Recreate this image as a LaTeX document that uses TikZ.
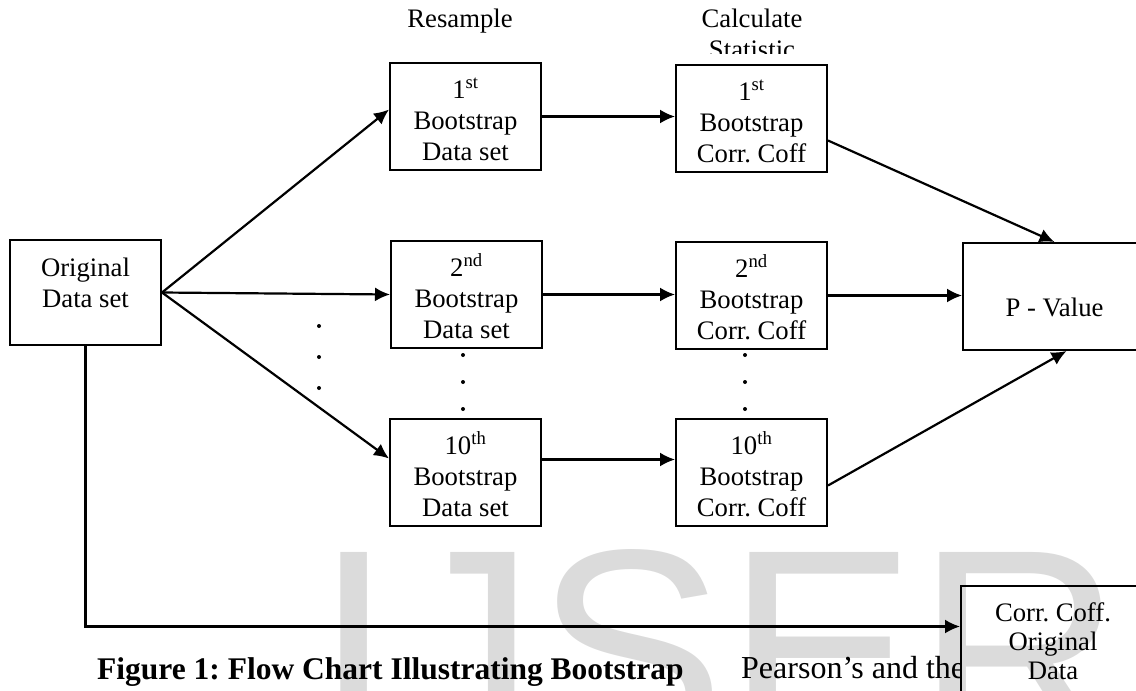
\documentclass[tikz,border=0pt]{standalone}
\usepackage{fontspec}
\setmainfont{Liberation Serif}
\newfontfamily\markfont{Liberation Sans}
\usetikzlibrary{arrows.meta}
\frenchspacing

\begin{document}
\begin{tikzpicture}[x=1pt,y=-1pt,>={Latex[length=15pt,width=14pt]},
    box/.style={draw,line width=2pt,inner sep=0pt,align=center,anchor=north west,
        minimum width=151pt,text height=97pt,text depth=10pt,
        font=\fontsize{26.7}{31}\selectfont},
    flow/.style={->,line width=2.2pt},
    every node/.style={font=\fontsize{26.7}{31}\selectfont}]
    % page frame
    \path[use as bounding box,clip] (0,0) rectangle (1136,691);

    % grey watermark behind everything
    \node[anchor=base west,inner sep=0pt,text=black!14,
        font=\markfont\fontsize{285}{285}\selectfont] (mark) at (314,748) {IJSER};

    % column headings
    \node[anchor=base,inner sep=0pt] (resample) at (460,27) {Resample};
    \begin{scope}
        \clip (600,0) rectangle (900,53);
        \node[anchor=base,inner sep=0pt,align=center] (calc) at (752,58) {Calculate\\Statistic};
    \end{scope}

    % the boxes
    \node[box,text height=67pt,text depth=38pt] (orig) at (9,239) {Original\\Data set};
    \node[box] (boot1) at (389,62) {1\textsuperscript{st}\\Bootstrap\\Data set};
    \node[box] (boot2) at (390,240) {2\textsuperscript{nd}\\Bootstrap\\Data set};
    \node[box] (boot10) at (389,418) {10\textsuperscript{th}\\Bootstrap\\Data set};
    \node[box] (corr1) at (675,64) {1\textsuperscript{st}\\Bootstrap\\Corr. Coff};
    \node[box] (corr2) at (675,241) {2\textsuperscript{nd}\\Bootstrap\\Corr. Coff};
    \node[box] (corr10) at (675,418) {10\textsuperscript{th}\\Bootstrap\\Corr. Coff};
    \node[box,minimum width=183pt,text height=73pt,text depth=34pt] (pval) at (962,242) {P - Value};
    \node[box,minimum width=184pt,font=\fontsize{26.7}{29}\selectfont,text height=93pt,text depth=14pt]
        (corrorig) at (960,585) {Corr. Coff.\\Original\\Data};

    % dots for the skipped samples
    \foreach \y in {326,357,388}
        \fill (319,\y) circle (2pt);
    \foreach \y in {355,382,409} {
        \fill (463,\y) circle (2pt);
        \fill (745,\y) circle (2pt);
    }

    % resampling
    \draw[flow] (orig.east) -- ([yshift=7pt]boot1.west);
    \draw[flow] (orig.east) -- (boot2.west);
    \draw[flow] (orig.east) -- ([yshift=14pt]boot10.west);

    % statistic of each sample
    \draw[flow] (boot1.east) -- (boot1.east -| corr1.west);
    \draw[flow] (boot2.east) -- (boot2.east -| corr2.west);
    \draw[flow] ([yshift=13pt]boot10.east) -- ([yshift=13pt]boot10.east -| corr10.west);

    % into the p-value
    \draw[flow] ([yshift=-22pt]corr1.east) -- (pval.north);
    \draw[flow] (corr2.east) -- (corr2.east -| pval.west);
    \draw[flow] ([yshift=-13pt]corr10.east) -- ([xshift=12pt]pval.south);

    % statistic of the original data
    \draw[flow] (orig.south) |- ([yshift=13pt]corrorig.west);

    % caption line
    \node[anchor=base west,inner sep=0pt,font=\fontsize{31.5}{38}\selectfont\bfseries]
        (caption) at (97,679) {Figure 1: Flow Chart Illustrating Bootstrap};
    \begin{scope}
        \clip (700,600) rectangle (960,691);
        \node[anchor=base west,inner sep=0pt,font=\fontsize{32}{38}\selectfont]
            (pearson) at (741,678) {Pearson’s and the};
    \end{scope}
\end{tikzpicture}
\end{document}
